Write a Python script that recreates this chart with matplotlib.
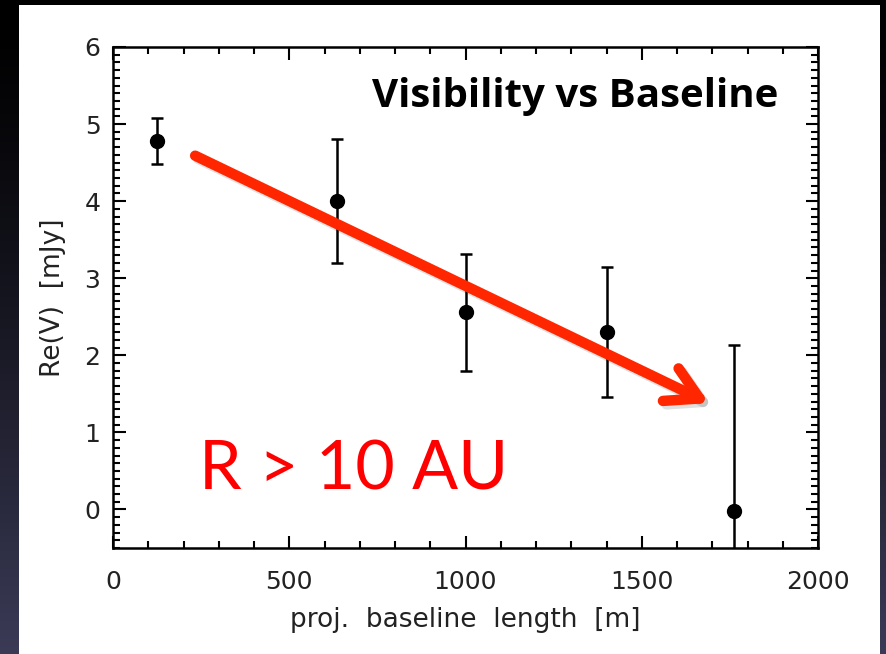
import numpy as np
import matplotlib
matplotlib.use("Agg")
import matplotlib.pyplot as plt
import matplotlib.patheffects as pe
from matplotlib.patches import Rectangle
from matplotlib.ticker import MultipleLocator

# Measured visibilities
baseline_m = [125, 635, 1000, 1400, 1762]
re_vis_mjy = [4.78, 4.00, 2.56, 2.30, -0.02]
re_vis_err = [0.30, 0.80, 0.76, 0.84, 2.16]

x_ticks = [0, 500, 1000, 1500, 2000]
y_ticks = [0, 1, 2, 3, 4, 5, 6]

title_text = "Visibility vs Baseline"
note_text = "R > 10 AU"
x_label = "proj.  baseline  length  [m]"
y_label = "Re(V)  [mJy]"

W, H = 886, 654
fig = plt.figure(figsize=(W / 100, H / 100), dpi=100)

# Slide background: dark gradient with a white panel
bg = fig.add_axes([0, 0, 1, 1], zorder=0)
grad = np.linspace(0, 1, 256)[:, None]
top = np.array([0.0, 0.0, 0.0])
bottom = np.array([0.23, 0.23, 0.34])
img = top + (bottom - top) * grad[..., None] ** 1.3
img = np.repeat(img, 4, axis=1)
bg.imshow(img, aspect="auto", extent=[0, W, H, 0], origin="upper")
bg.add_patch(Rectangle((19, 5), 861, H - 5, facecolor="white", edgecolor="none"))
bg.set_xlim(0, W)
bg.set_ylim(H, 0)
bg.axis("off")

# Plot area
ax = fig.add_axes([113 / W, 1 - 548 / H, (818 - 113) / W, (548 - 47) / H], zorder=1)
ax.set_facecolor("none")
ax.errorbar(baseline_m, re_vis_mjy, yerr=re_vis_err, fmt="o", color="black",
            markersize=10, elinewidth=1.8, capsize=4, capthick=1.8, clip_on=True)

ax.set_xlim(0, 2000)
ax.set_ylim(-0.5, 6)
ax.set_xticks(x_ticks)
ax.set_yticks(y_ticks)
ax.xaxis.set_minor_locator(MultipleLocator(100))
ax.yaxis.set_minor_locator(MultipleLocator(0.1))
ax.tick_params(which="both", direction="in", top=True, right=True, width=1.5, color="black")
ax.tick_params(which="major", length=9, labelsize=18, labelcolor="#222222")
ax.tick_params(which="minor", length=5)
ax.tick_params(axis="x", which="major", pad=16)
ax.tick_params(axis="y", which="major", pad=9)
for s in ax.spines.values():
    s.set_linewidth(1.8)

ax.set_xlabel(x_label, fontsize=19, labelpad=9, color="#222222")
ax.set_ylabel(y_label, fontsize=19, labelpad=13, color="#222222")

ax.text(1311, 5.22, title_text, fontsize=29, fontweight="bold", family="Open Sans",
        ha="center", va="baseline", color="black")
ax.text(684, 0.26, note_text, fontsize=49, family="Lato", ha="center",
        va="baseline", color="#ff0000")

# Trend arrow with a soft drop shadow
arr = ax.annotate("", xy=(1691, 1.38), xytext=(233, 4.59),
                  arrowprops=dict(arrowstyle="->,head_length=2.3,head_width=1.3",
                                  lw=7.5, color="#ff2600", capstyle="round",
                                  joinstyle="round", shrinkA=0, shrinkB=0))
arr.arrow_patch.set_path_effects([
    pe.SimpleLineShadow(offset=(2.5, -2.5), alpha=0.12, shadow_color="black"),
    pe.Normal()])

fig.savefig("out.png", dpi=100)
